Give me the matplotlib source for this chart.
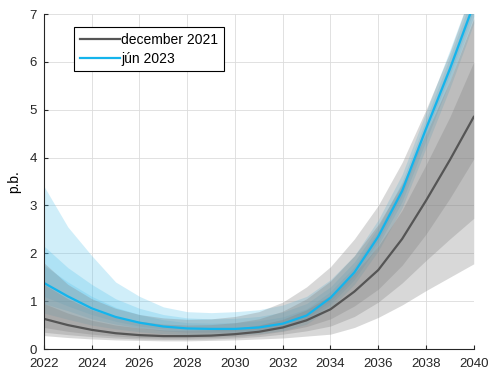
import matplotlib
matplotlib.use('Agg')
import matplotlib.pyplot as plt
import numpy as np

plt.rcParams['font.family'] = ['Liberation Sans', 'DejaVu Sans']

years = np.arange(2022, 2041)

# december 2021 (grey fan)
dec_center = [0.63, 0.50, 0.40, 0.33, 0.29, 0.27, 0.27, 0.28, 0.31, 0.36,
              0.45, 0.60, 0.83, 1.20, 1.65, 2.30, 3.10, 3.95, 4.85]
dec_outer_hi = [1.80, 1.35, 1.05, 0.85, 0.72, 0.65, 0.62, 0.63, 0.68, 0.78,
                0.98, 1.30, 1.72, 2.30, 3.00, 3.90, 5.00, 6.20, 7.60]
dec_outer_lo = [0.28, 0.24, 0.21, 0.19, 0.18, 0.17, 0.17, 0.18, 0.19, 0.21,
                0.23, 0.27, 0.31, 0.45, 0.66, 0.92, 1.22, 1.50, 1.78]
dec_mid_hi = [1.35, 1.05, 0.82, 0.67, 0.58, 0.52, 0.50, 0.51, 0.55, 0.63,
              0.79, 1.05, 1.42, 1.95, 2.60, 3.45, 4.50, 5.60, 6.90]
dec_mid_lo = [0.35, 0.30, 0.26, 0.23, 0.21, 0.20, 0.20, 0.21, 0.23, 0.26,
              0.31, 0.38, 0.48, 0.68, 0.98, 1.38, 1.85, 2.30, 2.73]
dec_in_hi = [0.95, 0.75, 0.60, 0.50, 0.44, 0.40, 0.39, 0.40, 0.43, 0.50,
             0.62, 0.82, 1.12, 1.58, 2.15, 2.90, 3.85, 4.85, 6.00]
dec_in_lo = [0.45, 0.37, 0.31, 0.27, 0.24, 0.23, 0.23, 0.24, 0.26, 0.30,
             0.37, 0.47, 0.63, 0.90, 1.25, 1.75, 2.40, 3.15, 3.97]

# jún 2023 (blue fan)
jun_center = [1.38, 1.10, 0.85, 0.67, 0.55, 0.47, 0.43, 0.42, 0.42, 0.45,
              0.53, 0.70, 1.07, 1.60, 2.35, 3.30, 4.60, 5.85, 7.20]
jun_outer_hi = [3.40, 2.55, 1.95, 1.40, 1.10, 0.88, 0.78, 0.76, 0.78, 0.82,
                0.92, 1.10, 1.45, 1.95, 2.70, 3.65, 4.95, 6.25, 7.60]
jun_outer_lo = [0.75, 0.62, 0.50, 0.42, 0.36, 0.32, 0.30, 0.30, 0.30, 0.32,
                0.38, 0.52, 0.85, 1.35, 2.05, 2.95, 4.20, 5.45, 6.80]
jun_mid_hi = [2.15, 1.70, 1.35, 1.05, 0.85, 0.72, 0.65, 0.63, 0.64, 0.68,
              0.77, 0.95, 1.30, 1.82, 2.55, 3.50, 4.80, 6.10, 7.45]
jun_mid_lo = [0.95, 0.80, 0.63, 0.52, 0.44, 0.38, 0.35, 0.35, 0.35, 0.37,
              0.44, 0.59, 0.93, 1.45, 2.17, 3.08, 4.35, 5.60, 6.95]
jun_in_hi = [1.75, 1.40, 1.10, 0.87, 0.72, 0.61, 0.55, 0.54, 0.55, 0.59,
             0.67, 0.84, 1.20, 1.72, 2.46, 3.40, 4.70, 5.97, 7.32]
jun_in_lo = [1.10, 0.90, 0.72, 0.58, 0.48, 0.42, 0.39, 0.38, 0.38, 0.40,
             0.48, 0.64, 1.00, 1.52, 2.26, 3.20, 4.50, 5.73, 7.08]

fig = plt.figure(figsize=(4.9, 3.72), dpi=100)
ax = fig.add_axes([0.0898, 0.0618, 0.877, 0.9005])

# blue fan
blue_fan = '#58c4ec'
for lo, hi in [(jun_outer_lo, jun_outer_hi), (jun_mid_lo, jun_mid_hi), (jun_in_lo, jun_in_hi)]:
    ax.fill_between(years, lo, hi, color=blue_fan, alpha=0.28, linewidth=0)

# grey fan
grey_fan = '#808080'
for lo, hi in [(dec_outer_lo, dec_outer_hi), (dec_mid_lo, dec_mid_hi), (dec_in_lo, dec_in_hi)]:
    ax.fill_between(years, lo, hi, color=grey_fan, alpha=0.3, linewidth=0)

ax.plot(years, dec_center, color='#555555', linewidth=1.6, label='december 2021')
ax.plot(years, jun_center, color='#14b4ec', linewidth=1.6, label='jún 2023')

ax.set_xlim(2022, 2040)
ax.set_ylim(0, 7)
ax.set_xticks(np.arange(2022, 2041, 2))
ax.set_yticks(np.arange(0, 8, 1))
ax.tick_params(direction='in', length=3, labelsize=9.5, colors='#262626', width=0.8)
ax.tick_params(axis='x', pad=6.5)
ax.tick_params(axis='y', pad=5)
ax.grid(True, color='#dcdcdc', linewidth=0.6)
ax.set_axisbelow(True)
for s in ['top', 'right']:
    ax.spines[s].set_visible(False)
for s in ['left', 'bottom']:
    ax.spines[s].set_color('#262626')
    ax.spines[s].set_linewidth(0.8)
ax.set_ylabel('p.b.', fontsize=10, labelpad=6)

leg = ax.legend(loc='upper left', bbox_to_anchor=(0.07, 0.96), fontsize=10,
                fancybox=False, edgecolor='black', framealpha=1,
                handlelength=2.9, handletextpad=0.1, borderpad=0.4,
                labelspacing=0.35, borderaxespad=0)
leg.get_frame().set_linewidth(0.8)

plt.savefig('out.png', dpi=100)
